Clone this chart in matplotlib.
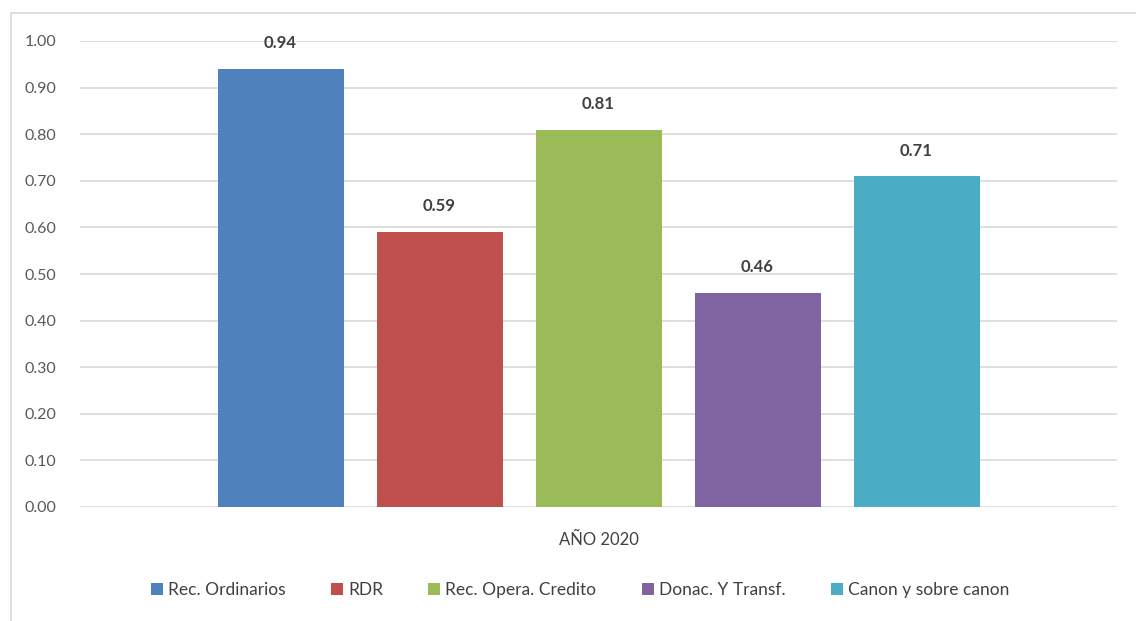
import matplotlib.pyplot as plt
from matplotlib.patches import Rectangle

plt.rcParams['font.family'] = ['Lato', 'DejaVu Sans']

# Datos
series = ['Rec. Ordinarios', 'RDR', 'Rec. Opera. Credito', 'Donac. Y Transf.', 'Canon y sobre canon']
valores = [0.94, 0.59, 0.81, 0.46, 0.71]
colores = ['#4F81BD', '#C0504D', '#9BBB59', '#8064A2', '#4BACC6']
categoria = 'AÑO 2020'
yticks = [0.0, 0.1, 0.2, 0.3, 0.4, 0.5, 0.6, 0.7, 0.8, 0.9, 1.0]

W, H = 1136, 621
fig = plt.figure(figsize=(W / 100, H / 100), dpi=100)
ax = fig.add_axes([80 / W, 1 - 507 / H, (1117 - 80) / W, (507 - 41) / H])

# marco del grafico
fig.patches.append(Rectangle((10.5 / W, -0.01), 1.2, 1 - 12.5 / H + 0.01,
                             transform=fig.transFigure, fill=False,
                             edgecolor='#d9d9d9', linewidth=1.2))

ancho = 126 / 1037
paso = 159 / 1037
for i, (s, v, c) in enumerate(zip(series, valores, colores)):
    x = (i - 2) * paso
    ax.bar(x, v, width=ancho, color=c, label=s, zorder=3)
    ax.text(x, v + 0.055, f'{v:.2f}', ha='center', va='center',
            fontsize=12, fontweight='bold', color='#404040')

ax.set_xlim(-0.5, 0.5)
ax.set_ylim(0, 1.0)
ax.set_yticks(yticks)
ax.set_yticklabels([f'{t:.2f}' for t in yticks], fontsize=11.5, color='#595959')
ax.tick_params(axis='y', length=0, pad=17)
ax.set_xticks([0])
ax.set_xticklabels([categoria], fontsize=12, color='#404040')
ax.tick_params(axis='x', length=0, pad=18)
ax.grid(axis='y', color='#d9d9d9', linewidth=1.2, zorder=0)
ax.set_axisbelow(True)
for sp in ax.spines.values():
    sp.set_visible(False)

leg = fig.legend(loc='center', bbox_to_anchor=(580 / W, 1 - 590 / H), ncol=5,
                 frameon=False, fontsize=12.5, handlelength=0.7, handleheight=0.7,
                 handletextpad=0.3, columnspacing=2.6)
for t in leg.get_texts():
    t.set_color('#404040')

fig.savefig('out.png', dpi=100)
